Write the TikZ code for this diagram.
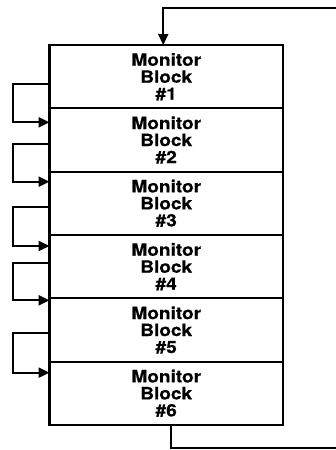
\documentclass[tikz,border=0pt]{standalone}
\usepackage{fontspec}
\setmainfont{TeX Gyre Heros}
\newfontfamily\blockfont[FakeStretch=1.12, FakeBold=0.6]{TeX Gyre Heros}
\usetikzlibrary{positioning,arrows.meta}

\begin{document}
\begin{tikzpicture}[x=1pt, y=-1pt,
    blockbox/.style={draw, line width=2.2pt, outer sep=0pt, inner sep=0pt,
      minimum width=233.5pt, minimum height=63.33pt, align=center,
      font=\blockfont\bfseries\fontsize{17}{17}\selectfont},
    flow/.style={line width=2.2pt, -{Triangle[length=11pt,width=10pt]}},
    wire/.style={line width=2.2pt}]
\useasboundingbox (0,0) rectangle (336,450);
% stack of monitor blocks
\node[blockbox, anchor=north] (m1) at (166.25,45) {Monitor\\Block\\\#1};
\foreach \i [remember=\i as \p (initially 1)] in {2,...,6}
  \node[blockbox, below=0pt of m\p] (m\i) {Monitor\\Block\\\#\i};
% chain on the left
\foreach \i/\j/\a/\b in {1/2/24/14, 2/3/28/10, 3/4/28/11, 4/5/35/2, 5/6/29/11}
  \draw[flow] ([yshift=\a pt]m\i.south west) -- ++(-36.5,0) |- ([yshift=-\b pt]m\j.north west);
% entry and exit
\coordinate (in) at (336,8);
\coordinate (out) at (336,448);
\draw[flow] (in) -| ([xshift=-3pt]m1.north);
\draw[wire] ([xshift=5pt]m6.south) |- (out);
\end{tikzpicture}
\end{document}
